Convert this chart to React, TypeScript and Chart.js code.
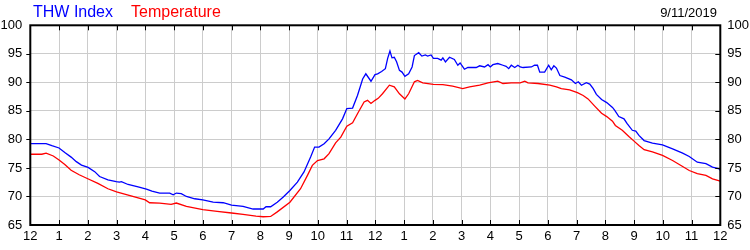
import React, { useEffect, useRef } from "react";
import { Chart, registerables } from "chart.js";

Chart.register(...registerables);

const xTickLabels = ["12", "1", "2", "3", "4", "5", "6", "7", "8", "9", "10", "11", "12", "1", "2", "3", "4", "5", "6", "7", "8", "9", "10", "11", "12"];

const thwHours = [0, 0.55, 0.75, 1.0, 1.2, 1.42, 1.6, 1.78, 2.01, 2.24, 2.41, 2.7, 2.99, 3.1, 3.17, 3.4, 3.75, 4.04, 4.23, 4.5, 4.85, 4.97, 5.08, 5.25, 5.43, 5.72, 6.0, 6.36, 6.71, 7.0, 7.4, 7.75, 8.1, 8.2, 8.36, 8.59, 8.8, 9.03, 9.29, 9.52, 9.75, 9.89, 10.04, 10.22, 10.39, 10.62, 10.86, 11.01, 11.21, 11.38, 11.56, 11.67, 11.85, 11.99, 12.08, 12.22, 12.35, 12.43, 12.51, 12.58, 12.66, 12.74, 12.84, 12.93, 13.03, 13.16, 13.28, 13.36, 13.51, 13.62, 13.74, 13.82, 13.94, 14.02, 14.17, 14.29, 14.35, 14.44, 14.58, 14.75, 14.87, 14.95, 15.1, 15.22, 15.51, 15.63, 15.8, 15.92, 16.0, 16.09, 16.26, 16.44, 16.55, 16.64, 16.73, 16.85, 16.96, 17.04, 17.14, 17.43, 17.54, 17.64, 17.72, 17.89, 18.03, 18.12, 18.21, 18.3, 18.42, 18.59, 18.82, 18.96, 19.06, 19.17, 19.34, 19.46, 19.58, 19.69, 19.87, 20.05, 20.25, 20.33, 20.47, 20.65, 20.76, 20.94, 21.06, 21.17, 21.35, 21.64, 21.99, 22.34, 22.69, 22.92, 23.2, 23.5, 23.73, 23.96, 24];
const thwValues = [79.25, 79.25, 78.9, 78.5, 77.7, 76.9, 76.1, 75.5, 75.1, 74.35, 73.5, 72.9, 72.6, 72.5, 72.6, 72.1, 71.7, 71.3, 70.95, 70.6, 70.6, 70.3, 70.6, 70.5, 70.0, 69.6, 69.4, 69.0, 68.9, 68.5, 68.25, 67.8, 67.8, 68.2, 68.2, 69.0, 69.9, 71.05, 72.5, 74.3, 76.9, 78.65, 78.65, 79.25, 80.1, 81.6, 83.6, 85.4, 85.5, 87.7, 90.6, 91.5, 90.2, 91.35, 91.5, 91.9, 92.4, 94.2, 95.5, 94.3, 94.4, 93.6, 92.1, 91.8, 91.05, 91.5, 92.7, 94.7, 95.2, 94.6, 94.8, 94.6, 94.8, 94.2, 94.2, 93.9, 94.3, 93.6, 94.4, 94.0, 93.0, 93.4, 92.3, 92.6, 92.6, 92.9, 92.7, 93.1, 92.7, 93.1, 93.3, 93.0, 92.8, 92.4, 93.0, 92.6, 93.0, 92.7, 92.6, 92.7, 93.0, 93.0, 91.8, 91.8, 93.0, 92.2, 92.9, 92.5, 91.2, 90.9, 90.45, 89.8, 90.1, 89.5, 89.95, 89.7, 88.9, 87.9, 87.0, 86.45, 85.6, 85.1, 84.0, 83.6, 82.75, 81.6, 81.45, 80.7, 79.8, 79.35, 79.05, 78.35, 77.6, 77.0, 76.0, 75.75, 75.15, 74.85, 74.55];

const tempHours = [0, 0.4, 0.55, 0.8, 1.0, 1.2, 1.42, 1.7, 2.0, 2.35, 2.7, 3.0, 3.5, 4.0, 4.15, 4.5, 4.9, 5.08, 5.43, 6.0, 6.5, 7.0, 7.4, 7.85, 8.1, 8.36, 8.59, 9.03, 9.4, 9.64, 9.81, 9.99, 10.22, 10.39, 10.62, 10.8, 11.01, 11.21, 11.38, 11.61, 11.73, 11.85, 11.99, 12.1, 12.25, 12.49, 12.66, 12.84, 13.03, 13.16, 13.36, 13.47, 13.65, 14.02, 14.35, 14.69, 15.04, 15.28, 15.63, 15.92, 16.26, 16.44, 16.73, 17.04, 17.2, 17.31, 17.66, 18.07, 18.3, 18.47, 18.76, 19.03, 19.23, 19.4, 19.64, 19.87, 20.05, 20.25, 20.35, 20.59, 20.82, 21.0, 21.17, 21.35, 21.64, 21.99, 22.34, 22.69, 22.92, 23.2, 23.5, 23.73, 24];
const tempValues = [77.4, 77.4, 77.6, 77.1, 76.4, 75.6, 74.6, 73.8, 73.1, 72.3, 71.35, 70.8, 70.1, 69.4, 68.9, 68.85, 68.6, 68.85, 68.25, 67.7, 67.4, 67.1, 66.85, 66.55, 66.45, 66.5, 67.3, 69.0, 71.35, 73.7, 75.45, 76.3, 76.6, 77.5, 79.4, 80.4, 82.3, 82.9, 84.5, 86.55, 86.85, 86.3, 86.85, 87.2, 88.0, 89.5, 89.2, 88.0, 87.1, 88.0, 90.1, 90.35, 89.9, 89.65, 89.6, 89.35, 88.9, 89.2, 89.5, 89.9, 90.2, 89.8, 89.9, 89.9, 90.2, 89.9, 89.8, 89.5, 89.2, 88.9, 88.7, 88.2, 87.7, 87.1, 85.8, 84.6, 84.0, 83.2, 82.45, 81.6, 80.5, 79.7, 78.95, 78.2, 77.8, 77.2, 76.3, 75.25, 74.55, 74.0, 73.7, 73.1, 72.7];

const seriesNames = ["THW Index", "Temperature"];
const seriesColors = ["#0000ff", "#ff0000"];
const dateLabel = "9/11/2019";

const FONT = 'Arial, "Liberation Sans", sans-serif';

const framePlugin = {
  id: "frame",
  afterDraw(chart: any) {
    const { ctx, chartArea } = chart;
    const { left, right, top, bottom } = chartArea;
    const xs = chart.scales.x;
    const ys = chart.scales.y;
    ctx.save();
    ctx.strokeStyle = "#000";
    ctx.lineWidth = 1;
    // hour tick marks, top and bottom (inside)
    for (let h = 1; h < 24; h++) {
      const px = Math.round(xs.getPixelForValue(h)) + 0.5;
      ctx.beginPath();
      ctx.moveTo(px, top);
      ctx.lineTo(px, top + 5);
      ctx.moveTo(px, bottom);
      ctx.lineTo(px, bottom - 5);
      ctx.stroke();
    }
    for (let v = 70; v < 100; v += 5) {
      const py = Math.round(ys.getPixelForValue(v)) + 0.5;
      ctx.beginPath();
      ctx.moveTo(left - 4, py);
      ctx.lineTo(left, py);
      ctx.moveTo(right, py);
      ctx.lineTo(right - 5, py);
      ctx.stroke();
    }
    ctx.lineWidth = 2;
    ctx.strokeRect(left, top, right - left, bottom - top);
    // header texts
    ctx.font = "16px " + FONT;
    ctx.textBaseline = "alphabetic";
    ctx.textAlign = "left";
    ctx.fillStyle = seriesColors[0];
    ctx.fillText(seriesNames[0], 33, 17);
    ctx.fillStyle = seriesColors[1];
    ctx.fillText(seriesNames[1], 131, 17);
    ctx.font = "13px " + FONT;
    ctx.fillStyle = "#000";
    ctx.textAlign = "right";
    ctx.fillText(dateLabel, 717, 17);
    ctx.restore();
  },
};

export default function App() {
  const ref = useRef<HTMLCanvasElement | null>(null);
  useEffect(() => {
    if (!ref.current) return;
    const tickFont = { family: FONT, size: 13 };
    const chart = new Chart(ref.current, {
      type: "line",
      data: {
        datasets: [
          {
            label: seriesNames[0],
            data: thwHours.map((h, i) => ({ x: h, y: thwValues[i] })),
            borderColor: seriesColors[0],
            borderWidth: 1.3,
            pointRadius: 0,
            tension: 0,
            yAxisID: "y",
          },
          {
            label: seriesNames[1],
            data: tempHours.map((h, i) => ({ x: h, y: tempValues[i] })),
            borderColor: seriesColors[1],
            borderWidth: 1.3,
            pointRadius: 0,
            tension: 0,
            yAxisID: "y",
          },
        ],
      },
      options: {
        animation: false,
        responsive: false,
        layout: { padding: { top: 25.3, left: 0, right: 0, bottom: 0 } },
        plugins: { legend: { display: false }, tooltip: { enabled: false } },
        scales: {
          x: {
            type: "linear",
            min: 0,
            max: 24,
            afterFit: (s: any) => {
              s.height = 25;
            },
            ticks: {
              stepSize: 1,
              autoSkip: false,
              maxRotation: 0,
              padding: 4,
              color: "#000",
              font: tickFont,
              callback: (v: any) => xTickLabels[Math.round(Number(v))],
            },
            grid: { color: "#cccccc", drawTicks: false },
            border: { display: false },
          },
          y: {
            position: "left",
            min: 65,
            max: 100,
            afterFit: (s: any) => {
              s.width = 30.3;
            },
            ticks: { stepSize: 5, padding: 8, color: "#000", font: tickFont },
            grid: { color: "#cccccc", drawTicks: false },
            border: { display: false },
          },
          y2: {
            position: "right",
            min: 65,
            max: 100,
            afterFit: (s: any) => {
              s.width = 29.7;
            },
            ticks: { stepSize: 5, padding: 7, color: "#000", font: tickFont },
            grid: { display: false, drawTicks: false },
            border: { display: false },
          },
        },
      } as any,
      plugins: [framePlugin],
    });
    return () => chart.destroy();
  }, []);
  return (
    <div style={{ position: "absolute", left: 0, top: 0, width: 750, height: 250, background: "#fff" }}>
      <canvas ref={ref} width={750} height={250} style={{ display: "block" }} />
    </div>
  );
}
